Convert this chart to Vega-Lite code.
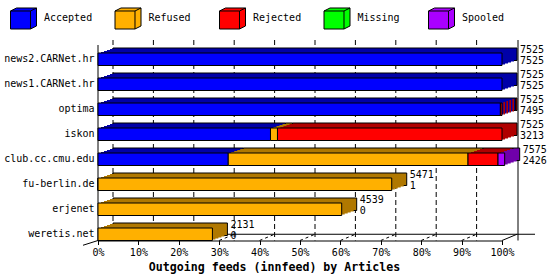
{
  "$schema": "https://vega.github.io/schema/vega-lite/v6.json",
  "width": 404,
  "height": 187.5,
  "autosize": "none",
  "padding": {"left": 98, "top": 53, "right": 48, "bottom": 39.5},
  "background": "white",
  "config": {"view": {"stroke": null}, "font": "DejaVu Sans Mono"},
  "datasets": {
    "segs": [
      {"host": "news2.CARNet.hr", "status": "Accepted", "a": 0, "b": 7525},
      {"host": "news1.CARNet.hr", "status": "Accepted", "a": 0, "b": 7525},
      {"host": "optima", "status": "Accepted", "a": 0, "b": 7495},
      {"host": "optima", "status": "Rejected", "a": 7495, "b": 7525},
      {"host": "iskon", "status": "Accepted", "a": 0, "b": 3213},
      {"host": "iskon", "status": "Refused", "a": 3213, "b": 3343},
      {"host": "iskon", "status": "Rejected", "a": 3343, "b": 7525},
      {"host": "club.cc.cmu.edu", "status": "Accepted", "a": 0, "b": 2426},
      {"host": "club.cc.cmu.edu", "status": "Refused", "a": 2426, "b": 6892},
      {"host": "club.cc.cmu.edu", "status": "Rejected", "a": 6892, "b": 7451},
      {"host": "club.cc.cmu.edu", "status": "Spooled", "a": 7451, "b": 7575},
      {"host": "fu-berlin.de", "status": "Accepted", "a": 0, "b": 1},
      {"host": "fu-berlin.de", "status": "Refused", "a": 1, "b": 5471},
      {"host": "erjenet", "status": "Refused", "a": 0, "b": 4539},
      {"host": "weretis.net", "status": "Refused", "a": 0, "b": 2131}
    ],
    "totals": [
      {"host": "news2.CARNet.hr", "offered": 7525, "accepted": 7525},
      {"host": "news1.CARNet.hr", "offered": 7525, "accepted": 7525},
      {"host": "optima", "offered": 7525, "accepted": 7495},
      {"host": "iskon", "offered": 7525, "accepted": 3213},
      {"host": "club.cc.cmu.edu", "offered": 7575, "accepted": 2426},
      {"host": "fu-berlin.de", "offered": 5471, "accepted": 1},
      {"host": "erjenet", "offered": 4539, "accepted": 0},
      {"host": "weretis.net", "offered": 2131, "accepted": 0}
    ],
    "grid": [{"v": 0}, {"v": 752.5}, {"v": 1505}, {"v": 2257.5}, {"v": 3010}, {"v": 3762.5}, {"v": 4515}, {"v": 5267.5}, {"v": 6020}, {"v": 6772.5}],
    "floor": [{"v": 752.5}, {"v": 1505}, {"v": 2257.5}, {"v": 3010}, {"v": 3762.5}, {"v": 4515}, {"v": 5267.5}, {"v": 6020}, {"v": 6772.5}]
  },
  "layer": [
    {
      "data": {"name": "grid"},
      "mark": {"type": "rule", "stroke": "black", "strokeWidth": 1, "strokeDash": [5, 3], "xOffset": 15, "yOffset": -13, "y2Offset": -5.5},
      "encoding": {"x": {"field": "v", "type": "quantitative", "scale": {"domain": [0, 7525], "nice": false, "zero": true}}}
    },
    {
      "data": {"values": [{"v": 7525}]},
      "mark": {"type": "rule", "stroke": "black", "strokeWidth": 1, "xOffset": 16, "yOffset": -13, "y2Offset": -5.5},
      "encoding": {"x": {"field": "v", "type": "quantitative", "scale": {"domain": [0, 7525], "nice": false, "zero": true}}}
    },
    {
      "data": {"values": [{}]},
      "mark": {"type": "rule", "stroke": "black", "strokeWidth": 1, "xOffset": 15, "x2Offset": 33},
      "encoding": {
        "x": {"datum": 0, "type": "quantitative", "scale": {"domain": [0, 7525], "nice": false, "zero": true}},
        "x2": {"datum": 7525},
        "y": {"datum": "weretis.net", "type": "nominal"}
      }
    },
    {
      "data": {"name": "floor"},
      "mark": {"type": "rule", "stroke": "black", "strokeWidth": 1, "strokeDash": [3, 3], "x2Offset": 15, "yOffset": 6.25, "y2Offset": 0},
      "encoding": {
        "x": {"field": "v", "type": "quantitative", "scale": {"domain": [0, 7525], "nice": false, "zero": true}},
        "x2": {"field": "v"},
        "y": {"datum": "weretis.net", "type": "nominal"},
        "y2": {"datum": "weretis.net"}
      }
    },
    {
      "data": {"values": [{}]},
      "mark": {"type": "rule", "stroke": "black", "strokeWidth": 1, "x2Offset": 15, "yOffset": 6.25, "y2Offset": 0},
      "encoding": {
        "x": {"datum": 7525, "type": "quantitative", "scale": {"domain": [0, 7525], "nice": false, "zero": true}},
        "x2": {"datum": 7525},
        "y": {"datum": "weretis.net", "type": "nominal"},
        "y2": {"datum": "weretis.net"}
      }
    },
    {
      "data": {"values": [{}]},
      "mark": {"type": "rule", "stroke": "black", "strokeWidth": 1, "xOffset": -15, "yOffset": 11, "y2Offset": 6.25},
      "encoding": {
        "x": {"datum": 0, "type": "quantitative", "scale": {"domain": [0, 7525], "nice": false, "zero": true}},
        "x2": {"datum": 0},
        "y": {"datum": "weretis.net", "type": "nominal"},
        "y2": {"datum": "weretis.net"}
      }
    },
    {
      "data": {"values": [{}]},
      "mark": {"type": "rule", "stroke": "black", "strokeWidth": 1, "yOffset": -8},
      "encoding": {
        "x": {"datum": 0, "type": "quantitative", "scale": {"domain": [0, 7525], "nice": false, "zero": true}}
      }
    },
    {
      "data": {"name": "segs"},
      "mark": {"type": "bar", "xOffset": 15, "x2Offset": 15, "yOffset": -5, "stroke": "black", "strokeWidth": 1},
      "encoding": {
        "x": {"field": "a", "type": "quantitative", "scale": {"domain": [0, 7525], "nice": false, "zero": true}},
        "x2": {"field": "b"},
        "y": {"field": "host", "type": "nominal", "sort": ["news2.CARNet.hr", "news1.CARNet.hr", "optima", "iskon", "club.cc.cmu.edu", "fu-berlin.de", "erjenet", "weretis.net"]},
        "fill": {"field": "status", "type": "nominal", "scale": {"domain": ["Spooled", "Missing", "Rejected", "Refused", "Accepted"], "range": ["#7000AA", "#00A000", "#B00000", "#B07800", "#0000A8"]}, "legend": null}
      }
    },
    {
      "data": {"name": "segs"},
      "mark": {"type": "bar", "xOffset": 12, "x2Offset": 12, "yOffset": -4},
      "encoding": {
        "x": {"field": "a", "type": "quantitative", "scale": {"domain": [0, 7525], "nice": false, "zero": true}},
        "x2": {"field": "b"},
        "y": {"field": "host", "type": "nominal", "sort": ["news2.CARNet.hr", "news1.CARNet.hr", "optima", "iskon", "club.cc.cmu.edu", "fu-berlin.de", "erjenet", "weretis.net"]},
        "fill": {"field": "status", "type": "nominal", "scale": {"domain": ["Spooled", "Missing", "Rejected", "Refused", "Accepted"], "range": ["#7000AA", "#00A000", "#B00000", "#B07800", "#0000A8"]}, "legend": null}
      }
    },
    {
      "data": {"name": "segs"},
      "mark": {"type": "bar", "xOffset": 9, "x2Offset": 9, "yOffset": -3},
      "encoding": {
        "x": {"field": "a", "type": "quantitative", "scale": {"domain": [0, 7525], "nice": false, "zero": true}},
        "x2": {"field": "b"},
        "y": {"field": "host", "type": "nominal", "sort": ["news2.CARNet.hr", "news1.CARNet.hr", "optima", "iskon", "club.cc.cmu.edu", "fu-berlin.de", "erjenet", "weretis.net"]},
        "fill": {"field": "status", "type": "nominal", "scale": {"domain": ["Spooled", "Missing", "Rejected", "Refused", "Accepted"], "range": ["#7000AA", "#00A000", "#B00000", "#B07800", "#0000A8"]}, "legend": null}
      }
    },
    {
      "data": {"name": "segs"},
      "mark": {"type": "bar", "xOffset": 6, "x2Offset": 6, "yOffset": -2},
      "encoding": {
        "x": {"field": "a", "type": "quantitative", "scale": {"domain": [0, 7525], "nice": false, "zero": true}},
        "x2": {"field": "b"},
        "y": {"field": "host", "type": "nominal", "sort": ["news2.CARNet.hr", "news1.CARNet.hr", "optima", "iskon", "club.cc.cmu.edu", "fu-berlin.de", "erjenet", "weretis.net"]},
        "fill": {"field": "status", "type": "nominal", "scale": {"domain": ["Spooled", "Missing", "Rejected", "Refused", "Accepted"], "range": ["#7000AA", "#00A000", "#B00000", "#B07800", "#0000A8"]}, "legend": null}
      }
    },
    {
      "data": {"name": "segs"},
      "mark": {"type": "bar", "xOffset": 3, "x2Offset": 3, "yOffset": -1},
      "encoding": {
        "x": {"field": "a", "type": "quantitative", "scale": {"domain": [0, 7525], "nice": false, "zero": true}},
        "x2": {"field": "b"},
        "y": {"field": "host", "type": "nominal", "sort": ["news2.CARNet.hr", "news1.CARNet.hr", "optima", "iskon", "club.cc.cmu.edu", "fu-berlin.de", "erjenet", "weretis.net"]},
        "fill": {"field": "status", "type": "nominal", "scale": {"domain": ["Spooled", "Missing", "Rejected", "Refused", "Accepted"], "range": ["#7000AA", "#00A000", "#B00000", "#B07800", "#0000A8"]}, "legend": null}
      }
    },
    {
      "data": {"name": "segs"},
      "mark": {"type": "bar", "stroke": "black", "strokeWidth": 1},
      "encoding": {
        "x": {
          "field": "a", "type": "quantitative",
          "scale": {"domain": [0, 7525], "nice": false, "zero": true},
          "axis": {
            "values": [0, 752.5, 1505, 2257.5, 3010, 3762.5, 4515, 5267.5, 6020, 6772.5, 7525],
            "labelExpr": "format(datum.value / 7525, '.0%')",
            "domainColor": "black", "tickColor": "black", "tickSize": 4,
            "labelFont": "DejaVu Sans Mono", "labelFontSize": 10, "labelColor": "black", "labelPadding": 3,
            "labelFlush": false, "labelOverlap": false, "grid": false,
            "title": "Outgoing feeds (innfeed) by Articles",
            "titleFont": "DejaVu Sans Mono", "titleFontWeight": "bold", "titleFontSize": 11.6, "titleColor": "black",
            "titleX": 176, "titleY": 30, "titleAlign": "center", "titleBaseline": "alphabetic"
          }
        },
        "x2": {"field": "b"},
        "y": {
          "field": "host", "type": "nominal",
          "sort": ["news2.CARNet.hr", "news1.CARNet.hr", "optima", "iskon", "club.cc.cmu.edu", "fu-berlin.de", "erjenet", "weretis.net"],
          "scale": {"paddingInner": 0.5, "paddingOuter": 0},
          "axis": {"title": null, "domain": false, "ticks": false, "grid": false, "labelFont": "DejaVu Sans Mono", "labelFontSize": 10, "labelColor": "black", "labelPadding": 4}
        },
        "color": {
          "field": "status", "type": "nominal",
          "scale": {"domain": ["Accepted", "Refused", "Rejected", "Missing", "Spooled"], "range": ["#0000FF", "#FFB000", "#FF0000", "#00FF00", "#AA00FF"]},
          "legend": {
            "orient": "none", "legendX": -88, "legendY": -48.5, "direction": "horizontal", "columns": 5,
            "title": null, "padding": 0, "gridAlign": "all", "columnPadding": 19.5,
            "symbolType": "M-1,-0.577L-0.538,-0.808L1,-0.808L1,0.577L0.538,0.808L-1,0.808ZM-1,-0.577L0.538,-0.577L0.538,0.808M0.538,-0.577L1,-0.808",
            "symbolSize": 676, "symbolStrokeColor": "black", "symbolStrokeWidth": 1, "symbolOpacity": 1,
            "labelFont": "DejaVu Sans Mono", "labelFontSize": 10, "labelColor": "black", "labelOffset": 7
          }
        }
      }
    },
    {
      "data": {"name": "totals"},
      "mark": {"type": "text", "align": "left", "baseline": "middle", "dx": 18, "dy": -9, "font": "DejaVu Sans Mono", "fontSize": 10, "color": "black"},
      "encoding": {
        "x": {"field": "offered", "type": "quantitative", "scale": {"domain": [0, 7525], "nice": false, "zero": true}},
        "y": {"field": "host", "type": "nominal", "sort": ["news2.CARNet.hr", "news1.CARNet.hr", "optima", "iskon", "club.cc.cmu.edu", "fu-berlin.de", "erjenet", "weretis.net"]},
        "text": {"field": "offered", "type": "quantitative", "format": "d"}
      }
    },
    {
      "data": {"name": "totals"},
      "mark": {"type": "text", "align": "left", "baseline": "middle", "dx": 18, "dy": 2, "font": "DejaVu Sans Mono", "fontSize": 10, "color": "black"},
      "encoding": {
        "x": {"field": "offered", "type": "quantitative", "scale": {"domain": [0, 7525], "nice": false, "zero": true}},
        "y": {"field": "host", "type": "nominal", "sort": ["news2.CARNet.hr", "news1.CARNet.hr", "optima", "iskon", "club.cc.cmu.edu", "fu-berlin.de", "erjenet", "weretis.net"]},
        "text": {"field": "accepted", "type": "quantitative", "format": "d"}
      }
    }
  ]
}
